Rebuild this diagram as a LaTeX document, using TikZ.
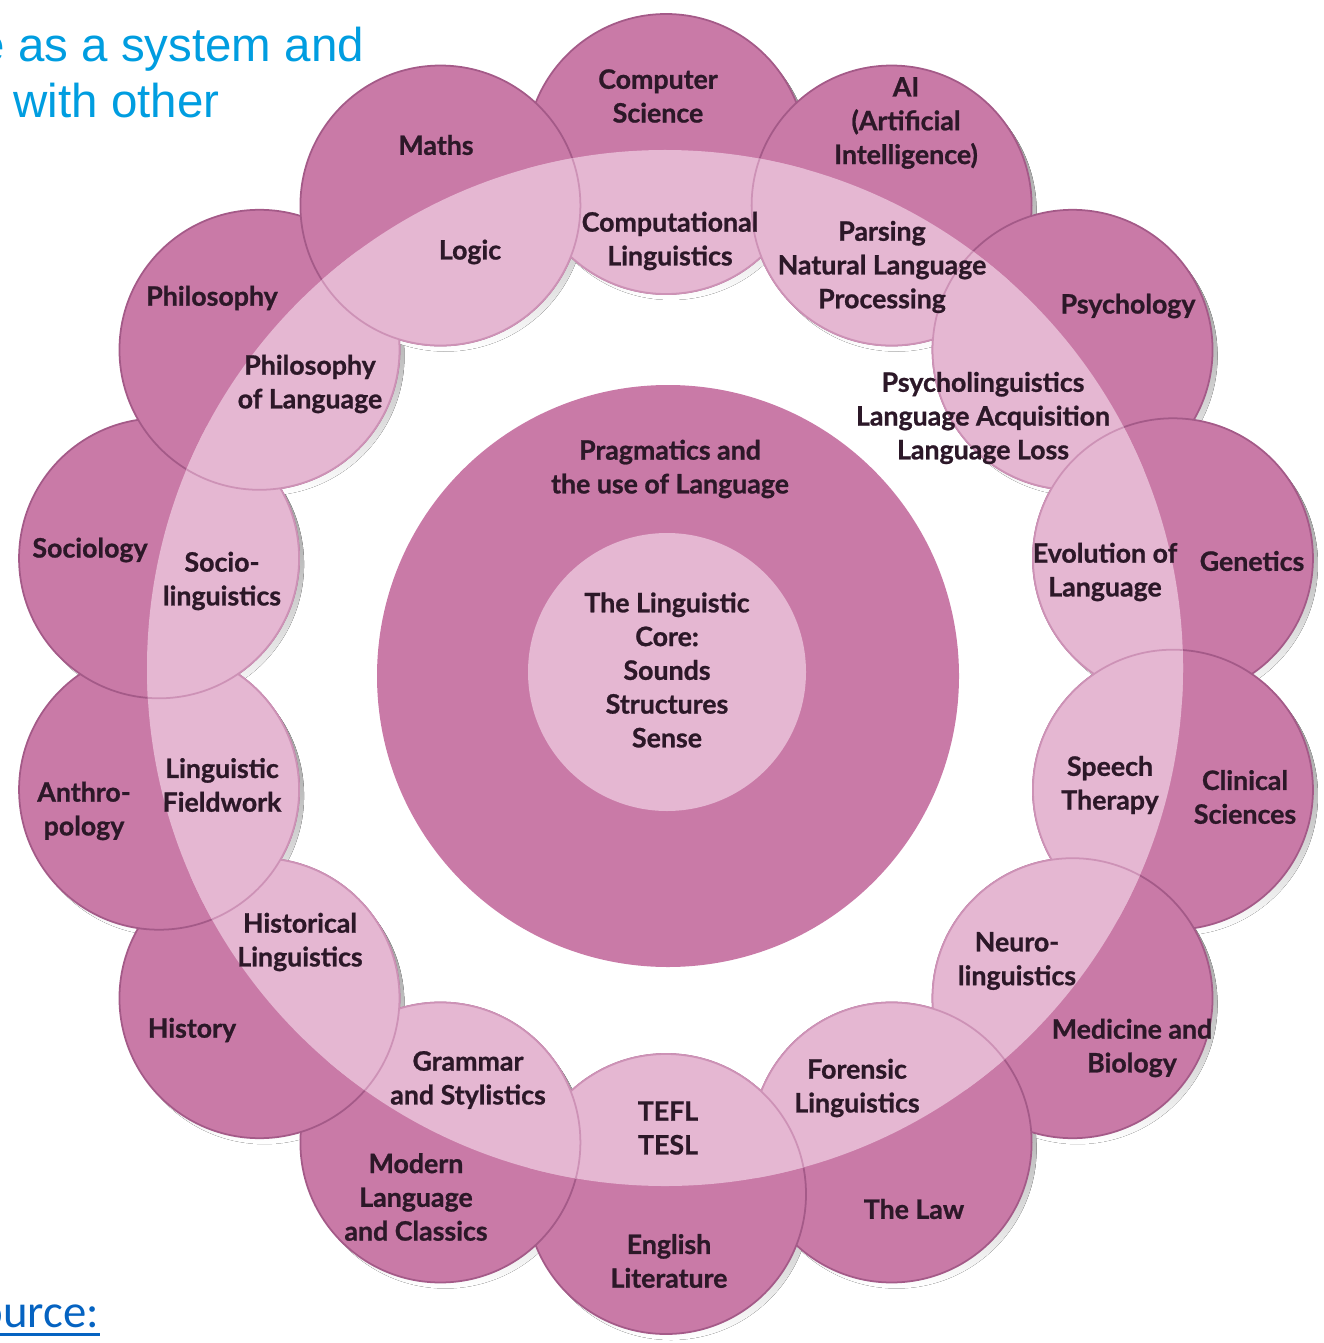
\documentclass[tikz,border=0pt]{standalone}
\usepackage{fontspec}
\setmainfont{Lato}
\newfontfamily\labelfont{Lato}[UprightFont={* Bold}, FakeBold=0.9]
\newfontfamily\headfont{Liberation Sans}
\newfontfamily\linkfont{Carlito}
\definecolor{petal}{HTML}{C97AA7}
\definecolor{inner}{HTML}{E5B7D2}
\definecolor{rim}{HTML}{A45A88}
\definecolor{seam}{HTML}{CD92B6}
\definecolor{shade}{HTML}{675C66}
\definecolor{ink}{HTML}{2C1828}
\definecolor{headblue}{HTML}{009DE0}
\definecolor{linkblue}{HTML}{0563C1}
\tikzset{
  lbl/.style={font=\labelfont\fontsize{7.6}{9.6}\selectfont, text=ink, align=center, inner sep=0pt},
  head/.style={font=\headfont\fontsize{13.5}{16}\selectfont, text=headblue, anchor=base west, inner sep=0pt},
}

\begin{document}
\begin{tikzpicture}[x=0.01cm,y=-0.01cm]
      \useasboundingbox (0,0) rectangle (1323,1343);
      \begin{scope}[shift={(666,674)}]
        \foreach \k in {0,...,13}
          \fill[shade] (-90+\k*360/14:520) ++(5,6) circle (140);
        \foreach \k in {0,...,13}
          \draw[rim, fill=petal, line width=0.5pt] (-90+\k*360/14:520) circle (140);
        \begin{scope}
          \clip (-1,-6) circle (518);
          \foreach \k in {0,...,13}
            \draw[seam, fill=inner, line width=0.5pt] (-90+\k*360/14:520) circle (140);
        \end{scope}
        \fill[petal] (2,2) circle (291);
        \fill[inner] (1,-2) circle (139);
      \end{scope}
      \begin{scope}[every node/.style={lbl}]
        \draw
          (658,96) node (compsci){Computer\\Science}
          (906,123) node (ai){AI\\(Artificial\\Intelligence)}
          (1128,306) node (psych){Psychology}
          (1252,561) node (genetics){Genetics}
          (1245,797) node (clinical){Clinical\\Sciences}
          (1132,1048) node (medicine){Medicine and\\Biology}
          (914,1209) node (law){The Law}
          (669,1261) node (englit){English\\Literature}
          (416,1197) node (modern){Modern\\Language\\and Classics}
          (192,1030) node (history){History}
          (84,811) node (anthro){Anthro-\\pology}
          (90,550) node (sociology){Sociology}
          (212,298) node (philosophy){Philosophy}
          (436,145) node (maths){Maths};
        \draw
          (670,241) node (complx){Computational\\Linguistics}
          (882,267) node (parsing){Parsing\\Natural Language\\Processing}
          (983,418) node (psycholx){Psycholinguistics\\Language Acquisition\\Language Loss}
          (1105,572) node (evolution){Evolution of\\Language}
          (1110,785) node (speech){Speech\\Therapy}
          (1017,961) node (neurolx){Neuro-\\linguistics}
          (857,1088) node (forensic){Forensic\\Linguistics}
          (668,1128) node (tefl){TEFL\\TESL}
          (468,1080) node (grammar){Grammar\\and Stylistics}
          (300,942) node (historlx){Historical\\Linguistics}
          (222,785) node (fieldwork){Linguistic\\Fieldwork}
          (222,581) node (sociolx){Socio-\\linguistics}
          (310,384) node (philang){Philosophy\\of Language}
          (470,252) node (logic){Logic};
        \draw
          (670,469) node (pragmatics){Pragmatics and\\the use of Language}
          (667,670) node (core){The Linguistic\\Core:\\Sounds\\Structures\\Sense};
      \end{scope}
      \node[head] (head1) at (-22,62) {e as a system and};
      \node[head] (head2) at (13,118) {with other};
      \node[head, font=\linkfont\fontsize{13.3}{16}\selectfont, text=linkblue] (src) at (-22,1327) {ource:};
      \draw[linkblue, line width=0.85pt] ([yshift=-2pt]src.base west) -- ([yshift=-2pt]src.base east);
\end{tikzpicture}
\end{document}
